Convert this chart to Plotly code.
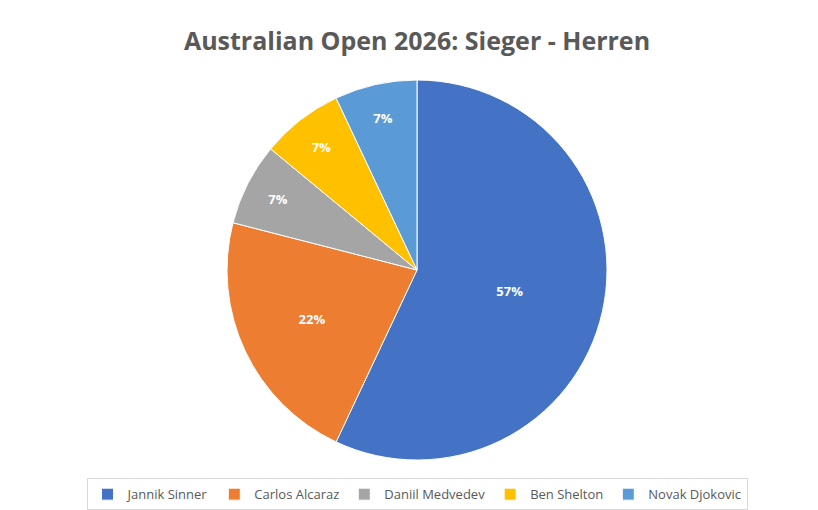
import plotly.graph_objects as go

players = ["Jannik Sinner", "Carlos Alcaraz", "Daniil Medvedev", "Ben Shelton", "Novak Djokovic"]
shares = [57, 22, 7, 7, 7]
colors = ["#4472C4", "#ED7D31", "#A5A5A5", "#FFC000", "#5B9BD5"]

fig = go.Figure(go.Pie(
    labels=players,
    values=shares,
    sort=False,
    direction="clockwise",
    rotation=0,
    marker=dict(colors=colors, line=dict(color="white", width=1)),
    textinfo="percent",
    texttemplate="<b>%{percent:.0%}</b>",
    textposition="inside",
    insidetextorientation="horizontal",
    textfont=dict(color="white", size=13, family="Open Sans"),
    hoverinfo="label+percent",
))

fig.update_layout(
    width=818, height=510,
    margin=dict(l=0, r=0, t=72, b=58),
    paper_bgcolor="white",
    title=dict(text="<b>Australian Open 2026: Sieger - Herren</b>", x=0.5, y=0.935,
               xanchor="center", yanchor="middle",
               font=dict(size=25, color="#595959", family="Open Sans")),
    showlegend=True,
    legend=dict(orientation="h", x=0.5, xanchor="center", y=-0.09, yanchor="middle",
                font=dict(size=13, color="#595959", family="Open Sans"),
                bordercolor="#D9D9D9", borderwidth=1, traceorder="normal"),
    font=dict(family="Open Sans"),
)

fig.write_html("out.html")
